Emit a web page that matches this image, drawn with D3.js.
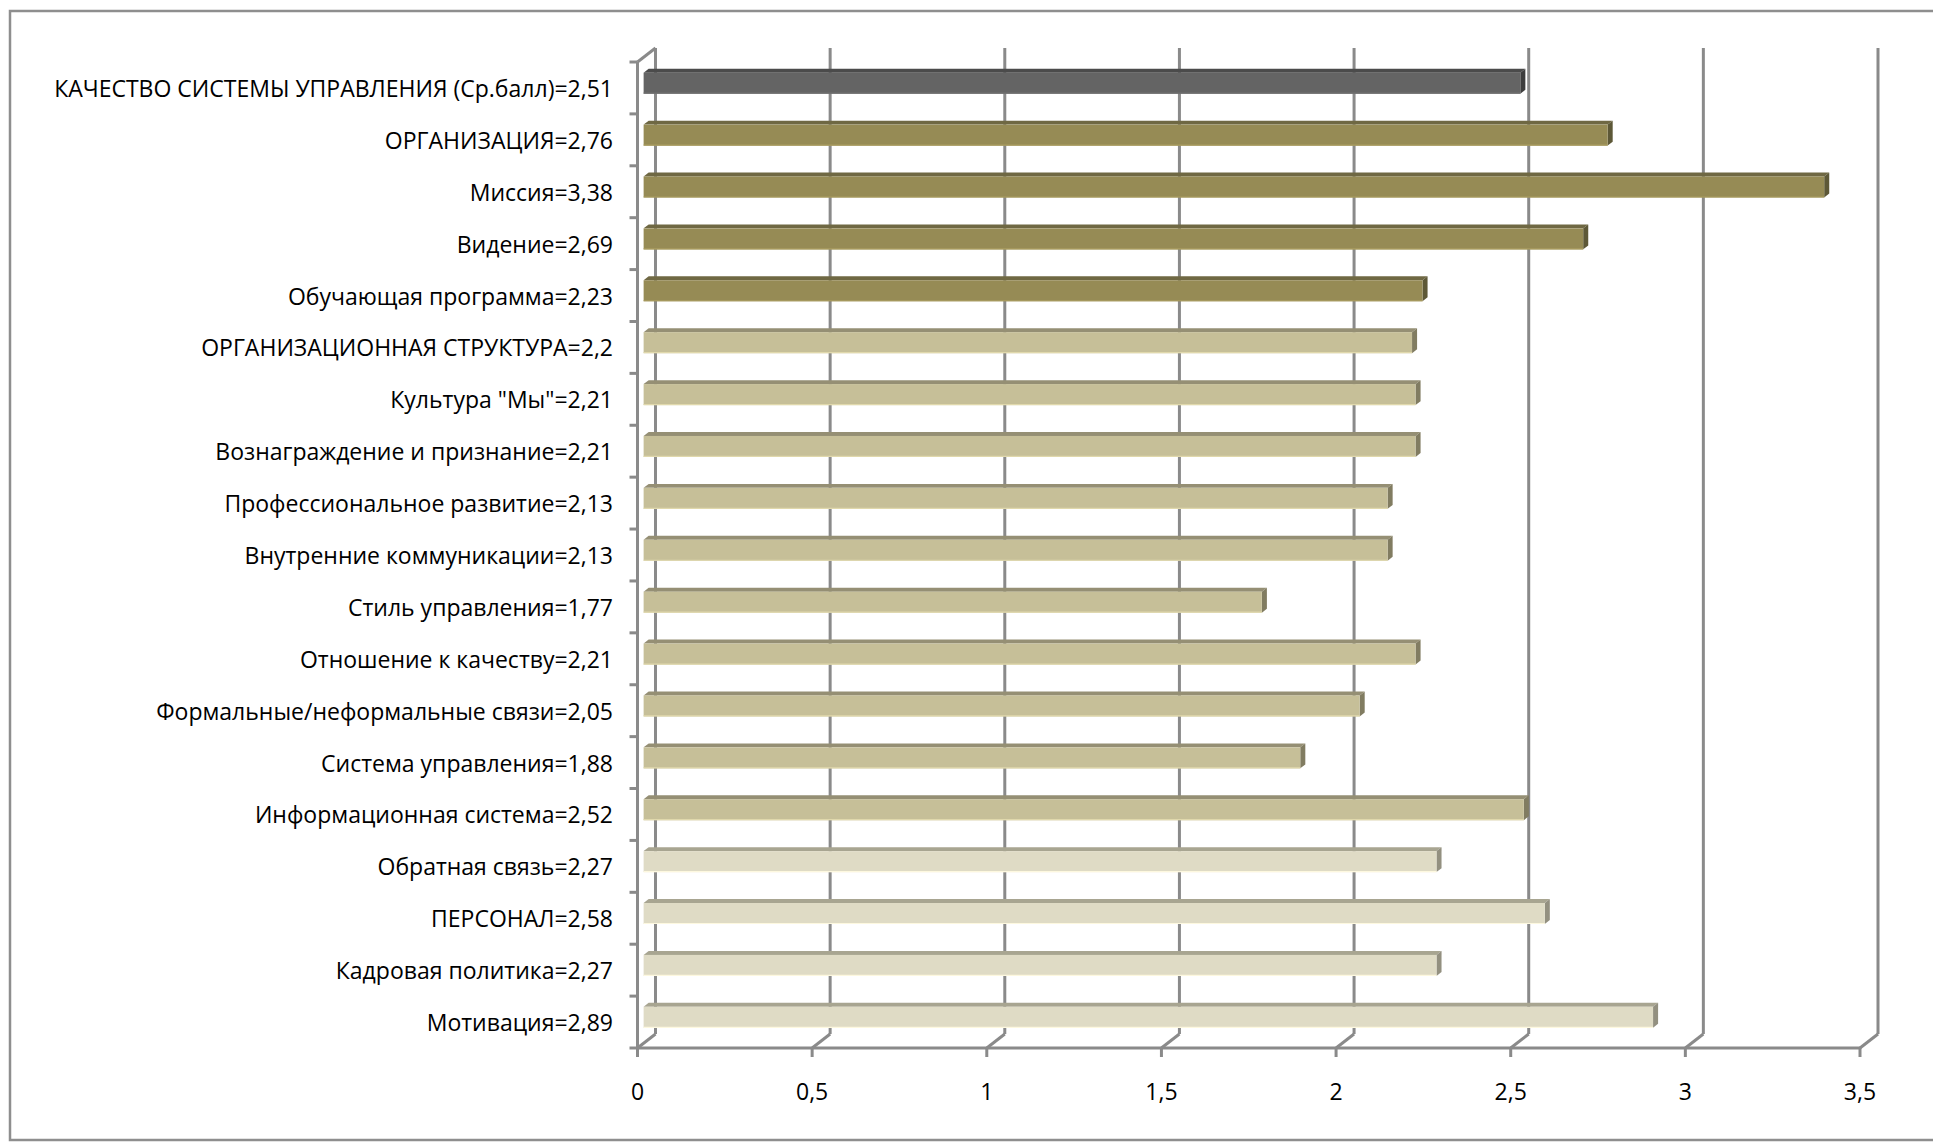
<!DOCTYPE html>
<html>
<head>
<meta charset="utf-8">
<script src="https://cdn.jsdelivr.net/npm/d3@7"></script>
<style>
  html, body { margin: 0; padding: 0; background: #ffffff; }
  svg { display: block; }
  text { font-family: "Open Sans", "Noto Sans", sans-serif; fill: #000; }
</style>
</head>
<body>
<svg id="chart" width="1933" height="1143"></svg>
<script>
// Survey indicators and their average scores
const categories = [
  "КАЧЕСТВО СИСТЕМЫ УПРАВЛЕНИЯ (Ср.балл)",
  "ОРГАНИЗАЦИЯ",
  "Миссия",
  "Видение",
  "Обучающая программа",
  "ОРГАНИЗАЦИОННАЯ СТРУКТУРА",
  "Культура \"Мы\"",
  "Вознаграждение и признание",
  "Профессиональное развитие",
  "Внутренние коммуникации",
  "Стиль управления",
  "Отношение к качеству",
  "Формальные/неформальные связи",
  "Система управления",
  "Информационная система",
  "Обратная связь",
  "ПЕРСОНАЛ",
  "Кадровая политика",
  "Мотивация"
];
const values = [2.51, 2.76, 3.38, 2.69, 2.23, 2.2, 2.21, 2.21, 2.13, 2.13, 1.77, 2.21, 2.05, 1.88, 2.52, 2.27, 2.58, 2.27, 2.89];
// Group of each indicator: 0 overall, 1 organisation block, 2 structure block, 3 personnel block
const groups = [0, 1, 1, 1, 1, 2, 2, 2, 2, 2, 2, 2, 2, 2, 2, 3, 3, 3, 3];
const tickValues = [0, 0.5, 1, 1.5, 2, 2.5, 3, 3.5];

// Face colours per group: front, top, side
const palette = [
  { front: "#646464", top: "#4b4b4b", side: "#3d3d3d" },
  { front: "#968b55", top: "#6f6843", side: "#5d5837" },
  { front: "#c6bf98", top: "#958f74", side: "#817c61" },
  { front: "#dfdbc5", top: "#a8a591", side: "#939080" }
];

const fmt = v => String(v).replace(".", ",");

const svg = d3.select("#chart");

// Outer frame
svg.append("rect")
  .attr("x", 10).attr("y", 11)
  .attr("width", 1960).attr("height", 1129)
  .attr("fill", "none")
  .attr("stroke", "#8e8e8e")
  .attr("stroke-width", 2.5);

const x = d3.scaleLinear().domain([0, 3.5]).range([637.5, 1860]);
const y = d3.scaleBand().domain(categories).range([62, 1048]).padding(0);
const bw = y.bandwidth();

// Depth of the 3D box (back wall offset) and of the bars within it
const depth = { dx: 18, dy: -14 };
const fFront = 0.34, fBack = 0.62;
const barH = 21;

const gridColor = "#8a8a8a";
const grid = svg.append("g")
  .attr("stroke", gridColor)
  .attr("stroke-width", 3)
  .attr("fill", "none");

const yTop = y.range()[0];
const yBottom = y.range()[1];

// Back wall vertical gridlines
grid.selectAll("line.back")
  .data(tickValues)
  .join("line")
  .attr("class", "back")
  .attr("x1", d => x(d) + depth.dx).attr("x2", d => x(d) + depth.dx)
  .attr("y1", yTop + depth.dy).attr("y2", yBottom + depth.dy);

// Floor diagonals from the front axis to the back wall
grid.selectAll("line.floor")
  .data(tickValues)
  .join("line")
  .attr("class", "floor")
  .attr("x1", d => x(d)).attr("y1", yBottom)
  .attr("x2", d => x(d) + depth.dx).attr("y2", yBottom + depth.dy);

// Left wall: front edge and top diagonal
grid.append("line")
  .attr("x1", x(0)).attr("x2", x(0))
  .attr("y1", yTop).attr("y2", yBottom);
grid.append("line")
  .attr("x1", x(0)).attr("y1", yTop)
  .attr("x2", x(0) + depth.dx).attr("y2", yTop + depth.dy);

// Front horizontal axis line
grid.append("line")
  .attr("x1", x(0)).attr("x2", x(3.5))
  .attr("y1", yBottom).attr("y2", yBottom);

// Category axis tick marks (band boundaries)
const boundaries = categories.map(c => y(c)).concat([yBottom]);
grid.selectAll("line.ytick")
  .data(boundaries)
  .join("line")
  .attr("class", "ytick")
  .attr("x1", x(0) - 8).attr("x2", x(0))
  .attr("y1", d => d).attr("y2", d => d);

// Value axis tick marks
grid.selectAll("line.xtick")
  .data(tickValues)
  .join("line")
  .attr("class", "xtick")
  .attr("x1", d => x(d)).attr("x2", d => x(d))
  .attr("y1", yBottom).attr("y2", yBottom + 9);

// Bars as 3D boxes
const offF = { dx: depth.dx * fFront, dy: depth.dy * fFront };
const dd = { dx: depth.dx * (fBack - fFront), dy: depth.dy * (fBack - fFront) };

const bars = svg.append("g").selectAll("g.bar")
  .data(categories.map((c, i) => ({ c, v: values[i], g: groups[i] })))
  .join("g")
  .attr("class", "bar");

bars.each(function (d) {
  const g = d3.select(this);
  const col = palette[d.g];
  const x0 = x(0) + offF.dx;
  const x1 = x(d.v) + offF.dx;
  const yc = y(d.c) + bw / 2 + offF.dy;
  const y0 = yc - barH / 2;
  const y1 = yc + barH / 2;
  // top face
  g.append("polygon")
    .attr("points", [[x0, y0], [x1, y0], [x1 + dd.dx, y0 + dd.dy], [x0 + dd.dx, y0 + dd.dy]].join(" "))
    .attr("fill", col.top);
  // end face
  g.append("polygon")
    .attr("points", [[x1, y0], [x1 + dd.dx, y0 + dd.dy], [x1 + dd.dx, y1 + dd.dy], [x1, y1]].join(" "))
    .attr("fill", col.side);
  // front face
  g.append("rect")
    .attr("x", x0).attr("y", y0)
    .attr("width", x1 - x0).attr("height", barH)
    .attr("fill", col.front);
  // light lower edge
  g.append("line")
    .attr("x1", x0).attr("x2", x1)
    .attr("y1", y1 - 0.5).attr("y2", y1 - 0.5)
    .attr("stroke", d3.color(col.front).brighter(0.35))
    .attr("stroke-width", 1.2);
});

// Category labels
svg.append("g").selectAll("text")
  .data(categories.map((c, i) => ({ c, v: values[i] })))
  .join("text")
  .attr("x", 613)
  .attr("y", d => y(d.c) + bw / 2)
  .attr("text-anchor", "end")
  .attr("dominant-baseline", "central")
  .attr("font-size", 23)
  .text(d => `${d.c}=${fmt(d.v)}`);

// Value axis labels
svg.append("g").selectAll("text")
  .data(tickValues)
  .join("text")
  .attr("x", d => x(d))
  .attr("y", 1091)
  .attr("text-anchor", "middle")
  .attr("dominant-baseline", "central")
  .attr("font-size", 23)
  .text(d => fmt(d));
</script>
</body>
</html>
